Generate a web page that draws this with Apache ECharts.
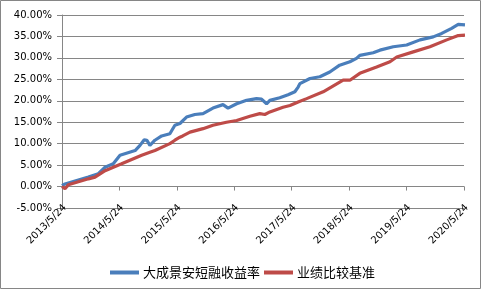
<!DOCTYPE html>
<html><head><meta charset="utf-8">
<script src="https://cdn.jsdelivr.net/npm/echarts@6/dist/echarts.min.js"></script>
<style>html,body{margin:0;padding:0;background:#fff}#c{width:481px;height:289px}</style>
</head><body><div id="c"></div>
<script>
const startDate = '2013-05-24';
const tickLabels = ['2013/5/24','2014/5/24','2015/5/24','2016/5/24','2017/5/24','2018/5/24','2019/5/24','2020/5/24'];
const seriesNames = ['大成景安短融收益率','业绩比较基准'];

const fundDates = ['2013-05-24','2013-06-12','2013-11-08','2014-01-10','2014-02-22','2014-04-15','2014-05-28','2014-09-01','2014-10-02','2014-10-29','2014-11-15','2014-12-04','2015-01-05','2015-02-17','2015-04-10','2015-05-12','2015-06-13','2015-07-25','2015-09-16','2015-11-07','2016-01-09','2016-03-13','2016-04-14','2016-06-08','2016-08-10','2016-10-12','2016-11-13','2016-12-15','2017-01-05','2017-03-09','2017-05-01','2017-06-13','2017-07-04','2017-07-15','2017-09-17','2017-11-19','2018-01-21','2018-03-25','2018-05-29','2018-07-10','2018-07-31','2018-10-24','2018-12-06','2019-03-01','2019-05-25','2019-08-18','2019-11-10','2020-01-03','2020-03-06','2020-04-17','2020-05-30'];
const fundValues = [0.2,0.6,2.2,3.0,4.5,5.3,7.3,8.4,9.6,10.9,10.8,9.6,10.8,11.8,12.3,14.3,14.7,16.2,16.8,17.0,18.3,19.1,18.3,19.3,20.1,20.5,20.4,19.3,20.1,20.7,21.4,22.1,23.2,24.0,25.2,25.6,26.7,28.3,29.1,29.9,30.6,31.2,31.8,32.6,33.0,34.2,34.9,35.7,36.9,37.8,37.7];

const benchDates = ['2013-05-24','2013-06-12','2013-07-03','2013-11-08','2013-12-20','2014-02-22','2014-06-07','2014-10-13','2014-12-04','2015-01-05','2015-04-10','2015-05-12','2015-06-13','2015-07-01','2015-08-16','2015-11-07','2016-01-09','2016-04-04','2016-06-08','2016-08-31','2016-11-02','2016-12-04','2017-01-05','2017-03-30','2017-05-13','2017-07-04','2017-08-27','2017-12-10','2018-04-16','2018-05-29','2018-07-31','2018-11-15','2019-02-08','2019-03-23','2019-07-06','2019-10-20','2020-02-04','2020-04-17','2020-05-30'];
const benchValues = [0.0,-0.5,0.4,1.8,2.2,3.7,5.3,7.3,8.0,8.4,10.0,10.8,11.5,11.8,12.7,13.5,14.3,15.0,15.4,16.4,17.0,16.8,17.4,18.5,18.9,19.7,20.5,22.1,24.8,24.8,26.4,27.9,29.1,30.2,31.4,32.6,34.2,35.2,35.3];

const t0 = Date.parse(startDate);
const toYears = d => (Date.parse(d) - t0) / (365.25 * 86400000);
const pairs = (ds, vs) => ds.map((d, i) => [toYears(d), vs[i]]);

const chart = echarts.init(document.getElementById('c'));
const gray = '#868686';
const font = 'DejaVu Sans';
chart.setOption({
  animation: false,
  backgroundColor: '#fff',
  grid: {left: 62, right: 17, top: 15, bottom: 81},
  xAxis: [{
    type: 'value', min: 0, max: 7, interval: 1,
    axisLine: {show: true, onZero: true, lineStyle: {color: gray, width: 1}},
    axisTick: {show: true, length: 4, inside: false, lineStyle: {color: gray}},
    axisLabel: {show: false},
    splitLine: {show: false}
  }, {
    type: 'value', min: 0, max: 7, interval: 1, position: 'bottom',
    axisLine: {show: false, onZero: false},
    axisTick: {show: false},
    splitLine: {show: false},
    axisLabel: {show: true, rotate: 45, margin: 1, fontFamily: font, fontSize: 10, color: '#000',
      padding: [0, -4, 0, 0],
      formatter: v => tickLabels[Math.round(v)] || ''}
  }],
  yAxis: {
    type: 'value', min: -5, max: 40, interval: 5,
    axisLine: {show: true, lineStyle: {color: gray}},
    axisTick: {show: true, length: 5, lineStyle: {color: gray}},
    splitLine: {show: true, lineStyle: {color: gray, width: 1}},
    axisLabel: {margin: 10, fontFamily: font, fontSize: 10, color: '#000',
      formatter: v => v.toFixed(2) + '%'}
  },
  legend: {
    left: 105, top: 261, itemWidth: 29, itemHeight: 4, itemGap: 4,
    icon: 'rect',
    textStyle: {fontFamily: 'Noto Sans CJK SC', fontSize: 13, color: '#000', padding: [0,0,0,-1]},
    data: seriesNames
  },
  graphic: [{type: 'rect', shape: {x: 0.5, y: 0.5, width: 480, height: 288},
    style: {fill: 'none', stroke: gray, lineWidth: 1}, silent: true}],
  series: [{
    name: seriesNames[0], type: 'line', xAxisIndex: 0, showSymbol: false, symbol: 'none',
    data: pairs(fundDates, fundValues),
    lineStyle: {color: '#4A7EBB', width: 3.2}, itemStyle: {color: '#4A7EBB'}
  }, {
    name: seriesNames[1], type: 'line', xAxisIndex: 0, showSymbol: false, symbol: 'none',
    data: pairs(benchDates, benchValues),
    lineStyle: {color: '#BE4B48', width: 3.2}, itemStyle: {color: '#BE4B48'}
  }]
});
</script></body></html>
